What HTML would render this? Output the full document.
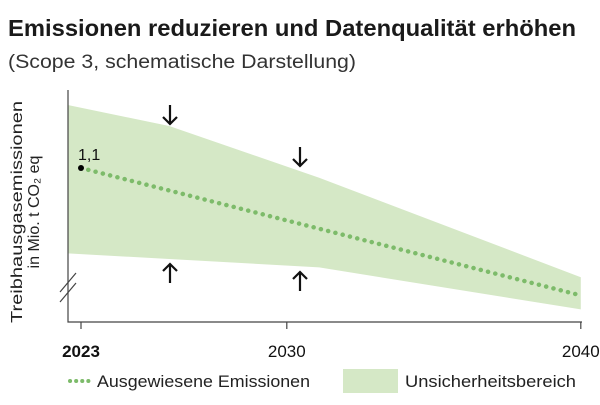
<!DOCTYPE html>
<html><head><meta charset="utf-8"><style>
body{margin:0;background:#fff;font-family:"Liberation Sans",sans-serif}
svg text{font-family:"Liberation Sans",sans-serif}
</style></head><body>
<svg width="600" height="400" viewBox="0 0 600 400">
<text x="8" y="36" font-size="23" font-weight="bold" fill="#1a1a1a" textLength="568" lengthAdjust="spacingAndGlyphs">Emissionen reduzieren und Datenqualität erhöhen</text>
<text x="8" y="68" font-size="19" fill="#333" textLength="348" lengthAdjust="spacingAndGlyphs">(Scope 3, schematische Darstellung)</text>
<g id="plot"></g>
<text transform="translate(22,212) rotate(-90)" text-anchor="middle" font-size="16" fill="#222"><tspan x="0" dy="0" textLength="222" lengthAdjust="spacingAndGlyphs">Treibhausgasemissionen</tspan><tspan x="0" dy="17">in Mio. t CO₂ eq</tspan></text>
<g>
<line x1="70" y1="381" x2="92" y2="381" stroke="#7dbb6a" stroke-width="4" stroke-linecap="round" stroke-dasharray="0.1 6"/>
<text x="97" y="387" font-size="17" fill="#222" textLength="213" lengthAdjust="spacingAndGlyphs">Ausgewiesene Emissionen</text>
<rect x="343" y="369" width="55" height="24" fill="#d5e8c6"/>
<text x="405" y="387" font-size="17" fill="#222" textLength="171" lengthAdjust="spacingAndGlyphs">Unsicherheitsbereich</text>
</g>
</svg>
<script>
const bandYears=[2022.55,2026,2031.1,2040];
const bandUpper=[1.55,1.40,1.03,0.32];
const bandLower=[0.49,0.45,0.39,0.09];
const lineYears=[2023,2040];
const lineValues=[1.1,0.19];
const tickYears=[2023,2030,2040];
const tickLabels=["2023","2030","2040"];
const x=y=>81+(y-2023)*29.4;
const yv=v=>322-v*140;
const NS="http://www.w3.org/2000/svg";
const g=document.getElementById('plot');
function mk(t,a){const e=document.createElementNS(NS,t);for(const k in a)e.setAttribute(k,a[k]);g.appendChild(e);return e;}
let pts=bandYears.map((yr,i)=>x(yr)+','+yv(bandUpper[i]));
for(let i=bandYears.length-1;i>=0;i--)pts.push(x(bandYears[i])+','+yv(bandLower[i]));
const band=mk('polygon',{points:pts.join(' '),fill:'#d5e8c6'});


const ln=mk('polyline',{points:lineYears.map((yr,i)=>x(yr)+','+yv(lineValues[i])).join(' '),fill:'none',stroke:'#7dbb6a','stroke-width':4.5,'stroke-linecap':'round','stroke-dasharray':'0.1 7.4'});


const dot=mk('circle',{cx:x(lineYears[0]),cy:yv(lineValues[0]),r:3,fill:'#000'});


const lab=mk('text',{x:x(lineYears[0])-3,y:yv(lineValues[0])-8,'font-size':16,fill:'#111'});
lab.textContent='1,1';


const ya=mk('path',{d:'M68 90V322H582',fill:'none',stroke:'#444','stroke-width':1.2});


const br=mk('path',{d:'M60 292L76 273M60 302L76 283',stroke:'#444','stroke-width':1.2});


tickYears.forEach((yr,i)=>{
 const t=mk('line',{x1:x(yr),x2:x(yr),y1:322,y2:329,stroke:'#444','stroke-width':1.2});
 
 
 const tx=mk('text',{x:x(yr),y:357,'text-anchor':'middle','font-size':17,fill:'#111','font-weight':i===0?'bold':'normal'});
 tx.textContent=tickLabels[i];
 
 
});
const arrows=[[170,105,1],[300,147,1],[170,283,-1],[300,291,-1]];
arrows.forEach(a=>{
 const [ax,ay,d]=a;
 const p=mk('path',{d:d>0?`M${ax} ${ay}v19M${ax-7} ${ay+12}l7 7l7 -7`:`M${ax} ${ay}v-19M${ax-7} ${ay-12}l7 -7l7 7`,fill:'none',stroke:'#111','stroke-width':2.2});
 
 
});
</script>
</body></html>
